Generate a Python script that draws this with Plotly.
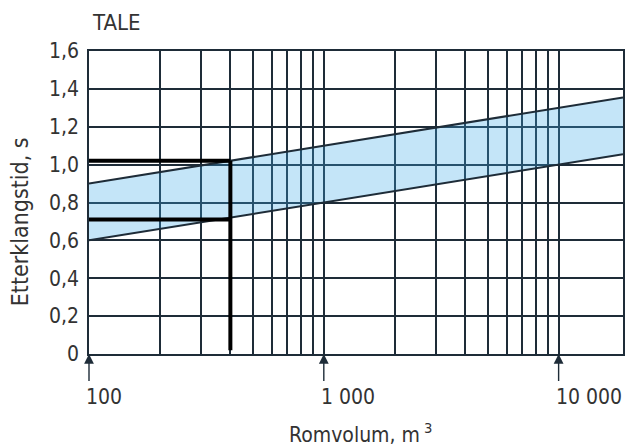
import math
import plotly.graph_objects as go

# ---- data ----
volume = [100, 1000, 10000, 18800]          # m3
upper_limit = [0.90, 1.10, 1.30, 1.355]     # s
lower_limit = [0.60, 0.80, 1.00, 1.055]     # s

example_volume = 400
example_upper = 1.02
example_lower = 0.71
example_bottom = 0.02

x_labels = [100, 1000, 10000]
x_label_text = ["100", "1 000", "10 000"]
grid_x = [100, 200, 300, 400, 500, 600, 700, 800, 900,
          1000, 2000, 3000, 4000, 5000, 6000, 7000, 8000, 9000, 10000]
y_ticks = [0, 0.2, 0.4, 0.6, 0.8, 1.0, 1.2, 1.4, 1.6]
y_tick_text = ["0", "0,2", "0,4", "0,6", "0,8", "1,0", "1,2", "1,4", "1,6"]

FONT = "DejaVu Sans Condensed, Liberation Sans Narrow, sans-serif"
TXT = "#333333"
GRID = "#1e2c38"

fig = go.Figure()
fig.add_trace(go.Scatter(x=volume, y=lower_limit, mode="lines",
                         line=dict(color=GRID, width=2), showlegend=False))
fig.add_trace(go.Scatter(x=volume, y=upper_limit, mode="lines", fill="tonexty",
                         fillcolor="rgba(60,170,232,0.30)",
                         line=dict(color=GRID, width=2), showlegend=False))
# example lines
fig.add_trace(go.Scatter(x=[example_volume, example_volume], y=[example_bottom, example_upper],
                         mode="lines", line=dict(color="black", width=4), showlegend=False))
fig.add_trace(go.Scatter(x=[volume[0], example_volume], y=[example_upper, example_upper],
                         mode="lines", line=dict(color="black", width=4), showlegend=False))
fig.add_trace(go.Scatter(x=[volume[0], example_volume], y=[example_lower, example_lower],
                         mode="lines", line=dict(color="black", width=4), showlegend=False))

annotations = []
for v, t in zip(x_labels, x_label_text):
    annotations.append(dict(x=math.log10(v), y=-0.142, xref="x", yref="paper",
                            text=t, showarrow=False, xanchor="left", yanchor="middle",
                            xshift=-5, font=dict(family=FONT, size=21, color=TXT)))
    annotations.append(dict(x=math.log10(v), y=0, xref="x", yref="y", text=" ",
                            showarrow=True, ax=0, ay=30, arrowhead=2, arrowsize=1.4,
                            arrowwidth=1.4, arrowcolor=GRID, standoff=0,
                            font=dict(size=2)))

annotations.append(dict(x=0.002, y=1.094, xref="paper", yref="paper", text="TALE",
                        showarrow=False, xanchor="left", yanchor="middle",
                        font=dict(family=FONT, size=22, color=TXT)))
annotations.append(dict(x=-0.1287, y=0.4356, xref="paper", yref="paper",
                        text="Etterklangstid, s", textangle=-90, showarrow=False,
                        xanchor="center", yanchor="middle",
                        font=dict(family=FONT, size=23, color=TXT)))
annotations.append(dict(x=0.509, y=-0.2607, xref="paper", yref="paper",
                        text="Romvolum, m<sup> 3</sup>", showarrow=False,
                        xanchor="center", yanchor="middle",
                        font=dict(family=FONT, size=21, color=TXT)))

fig.update_layout(
    width=626, height=446,
    margin=dict(l=89, r=1, t=51, b=92),
    paper_bgcolor="white", plot_bgcolor="white",
    annotations=annotations,
    xaxis=dict(type="log", range=[2, math.log10(volume[-1])],
               tickvals=grid_x, showticklabels=False, ticks="",
               showgrid=True, gridcolor=GRID, gridwidth=1.5,
               showline=True, mirror=True, linecolor=GRID, linewidth=1.5,
               zeroline=False),
    yaxis=dict(range=[0, 1.6], tickvals=y_ticks, ticktext=y_tick_text,
               ticks="", ticklabelstandoff=4,
               tickfont=dict(family=FONT, size=21, color=TXT),
               showgrid=True, gridcolor=GRID, gridwidth=1.5,
               showline=True, mirror=True, linecolor=GRID, linewidth=1.5,
               zeroline=False),
)

fig.write_html("out.html")
